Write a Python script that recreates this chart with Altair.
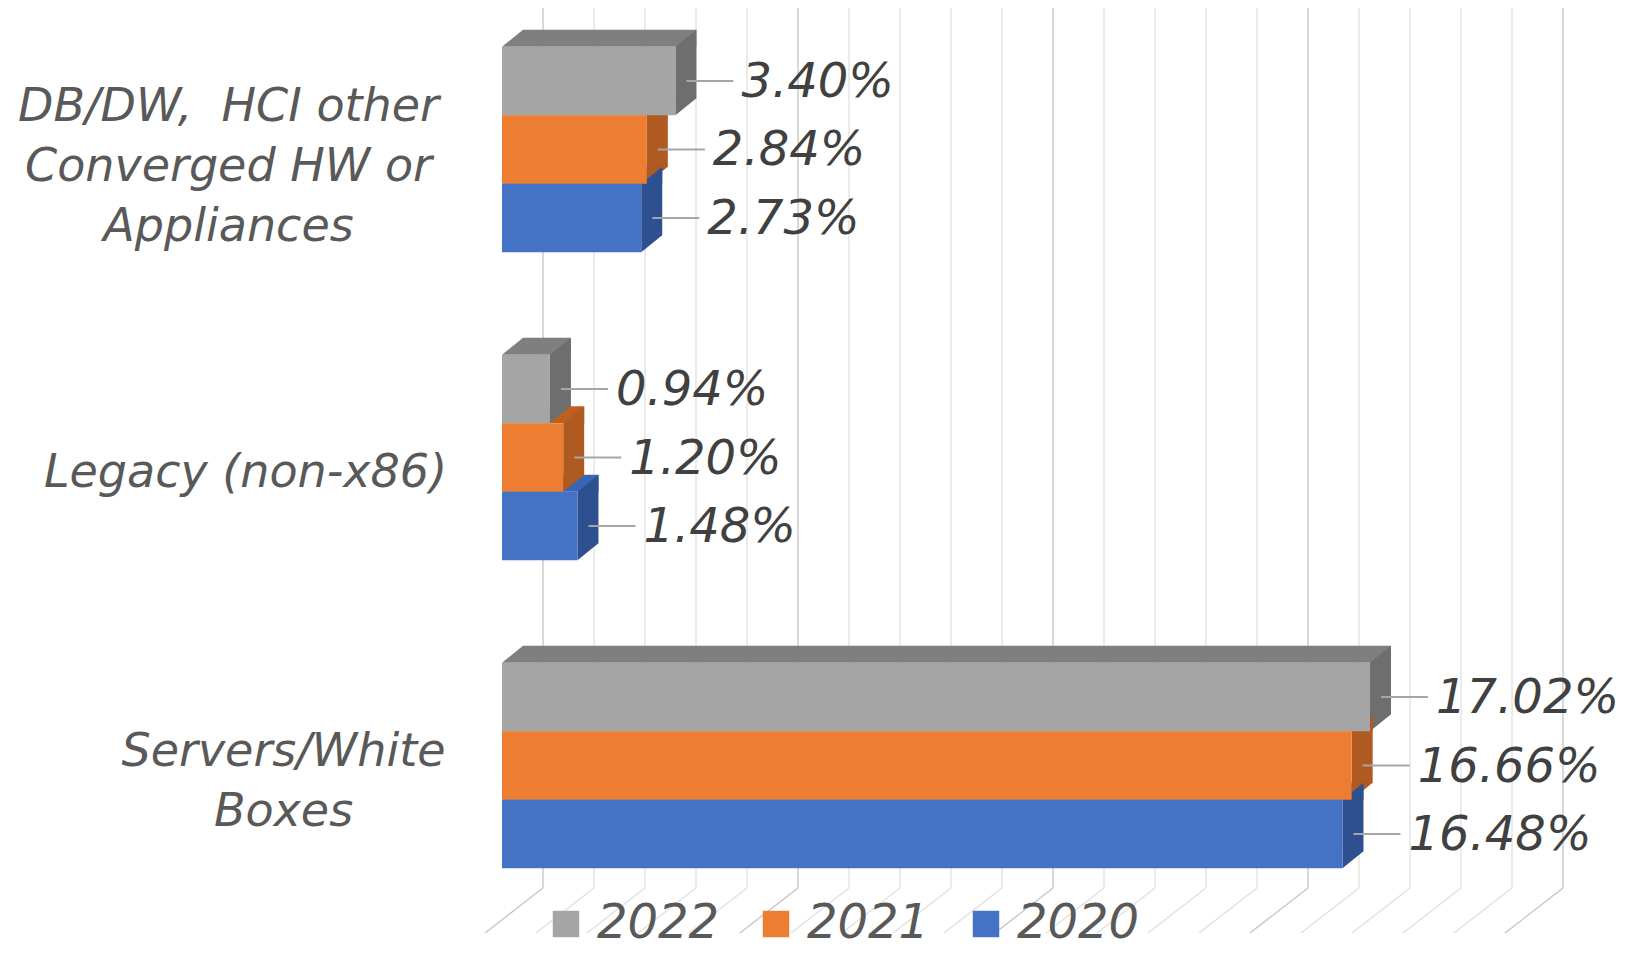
import altair as alt
import pandas as pd

# ---- data ----
categories = ["DB/DW,\u00a0 HCI other|Converged HW or|Appliances", "Legacy (non-x86)", "Servers/White|Boxes"]
years = ["2022", "2021", "2020"]
v2022 = [3.40, 0.94, 17.02]
v2021 = [2.84, 1.20, 16.66]
v2020 = [2.73, 1.48, 16.48]
grid_ticks = list(range(0, 21))

# ---- styles ----
front_colors = ["#A5A5A5", "#ED7D31", "#4472C4"]
top_colors = ["#7F7F7F", "#C0601F", "#3A64B4"]
side_colors = ["#6E6E6E", "#AE5A21", "#2F5090"]
FONT = "DejaVu Sans"

rows = []
for yr, vals in zip(years, [v2022, v2021, v2020]):
    for c, v in zip(categories, vals):
        rows.append({"category": c, "year": yr, "value": v})
df = pd.DataFrame(rows)
grid = pd.DataFrame({"t": grid_ticks})

W, H = 1020, 895
x_scale = alt.Scale(domain=[0, 20], nice=False, zero=True)
y_scale = alt.Scale(domain=categories, paddingInner=0.3328, paddingOuter=0.1193)

NLINES = "length(split(datum.value, '|'))"
Y = alt.Y(
    "category:N", scale=y_scale, sort=categories,
    axis=alt.Axis(
        title=None, domain=False, ticks=False, grid=False,
        labelAlign="center", labelBaseline="middle",
        labelPadding={"expr": f"{NLINES} == 3 ? 274 : ({NLINES} == 2 ? 219 : 257)"},
        labelOffset={"expr": f"15 - ({NLINES} - 1) * 28.5"},
        labelFontSize=46, labelFont=FONT, labelFontStyle="italic",
        labelColor="#595959", labelLineHeight=60, labelLimit=700,
        labelExpr="split(datum.label, '|')",
    ),
)
X = alt.X("value:Q", scale=x_scale, axis=None)
YOFF = alt.YOffset("year:N", sort=years,
                   scale=alt.Scale(type="band", domain=years, paddingInner=0, paddingOuter=0))

# back-wall gridlines
gridv = alt.Chart(grid).mark_rule(xOffset=41, strokeWidth=1.3).encode(
    x=alt.X("t:Q", scale=x_scale, axis=None),
    y=alt.value(-2), y2=alt.value(878),
    color=alt.condition("datum.t % 5 == 0", alt.value("#c4c4c4"), alt.value("#e0e0e0")),
)
# floor diagonals
gridd = alt.Chart(grid).mark_rule(xOffset=41, x2Offset=-17, strokeWidth=1.3).encode(
    x=alt.X("t:Q", scale=x_scale, axis=None), x2="t:Q",
    y=alt.value(878), y2=alt.value(923),
    color=alt.condition("datum.t % 5 == 0", alt.value("#c4c4c4"), alt.value("#e0e0e0")),
)

# top faces (strip above each bar, shifted back)
top = alt.Chart(df).mark_bar(xOffset=21, x2Offset=21).encode(
    x=X, y=Y,
    yOffset=alt.YOffset("year:N", sort=years,
                        scale=alt.Scale(type="band", domain=years, range=[-17, 137],
                                        paddingInner=0.752, paddingOuter=0)),
    color=alt.Color("year:N", scale=alt.Scale(domain=years, range=top_colors), legend=None),
)
# left corner of top faces
tri = alt.Chart(df).mark_point(
    shape="M0,-34.25L21,-51.25L21,-34.25Z", size=4, filled=True, opacity=1, strokeWidth=0
).encode(
    x=alt.value(0), y=Y, yOffset=YOFF,
    color=alt.Color("year:N", scale=alt.Scale(domain=years, range=top_colors), legend=None),
)
# right side faces
side = alt.Chart(df).mark_point(
    shape="M0,-34.25L21,-51.25L21,17.25L0,34.25Z", size=4, filled=True, opacity=1, strokeWidth=0
).encode(
    x=X, y=Y, yOffset=YOFF,
    color=alt.Color("year:N", scale=alt.Scale(domain=years, range=side_colors), legend=None),
)
# front faces
front = alt.Chart(df).mark_bar().encode(
    x=X, y=Y, yOffset=YOFF,
    color=alt.Color(
        "year:N", sort=years, scale=alt.Scale(domain=years, range=front_colors),
        legend=alt.Legend(
            title=None, orient="none", legendX=40, legendY=890, direction="horizontal",
            symbolType="square", symbolSize=700, symbolStrokeWidth=0,
            labelFontSize=48, labelFont=FONT, labelFontStyle="italic", labelColor="#595959",
            columnPadding=32, labelOffset=7,
        ),
    ),
)
# leader lines
leaders = alt.Chart(df).mark_rule(xOffset=11, x2Offset=58, color="#a6a6a6", strokeWidth=2).encode(
    x=X, x2="value:Q", y=Y, yOffset=YOFF,
)
# data labels
labels = alt.Chart(df).transform_calculate(
    label="format(datum.value, '.2f') + '%'"
).mark_text(
    align="left", baseline="middle", dx=66, dy=2, fontSize=48, font=FONT,
    fontStyle="italic", color="#404040",
).encode(x=X, y=Y, yOffset=YOFF, text="label:N")

chart = alt.layer(gridv, gridd, top, tri, side, front, leaders, labels).resolve_scale(
    color="independent", yOffset="independent"
).properties(
    width=W, height=H,
    padding={"left": 502, "top": 10, "right": 117, "bottom": 48},
    autosize=alt.AutoSizeParams(type="none"),
).configure_view(strokeWidth=0)

chart.save("out.html", embed_options={"renderer": "svg", "actions": False})
